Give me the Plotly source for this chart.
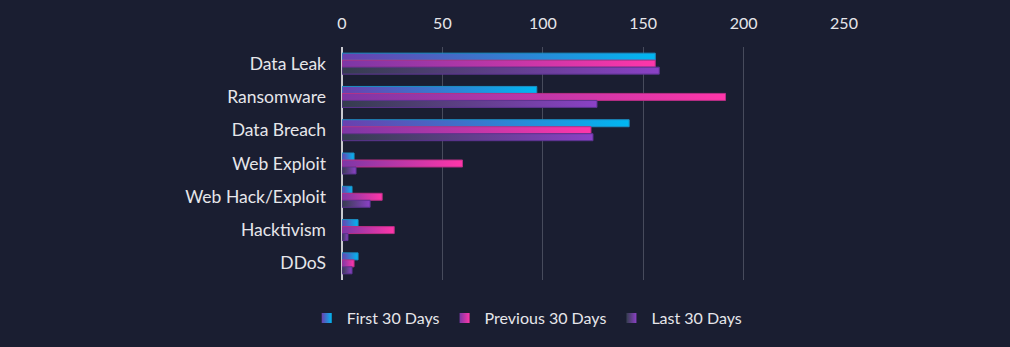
import plotly.graph_objects as go

# Incident categories and counts per 30-day window
categories = ["Data Leak", "Ransomware", "Data Breach", "Web Exploit",
              "Web Hack/Exploit", "Hacktivism", "DDoS"]
first_30 = [156, 97, 143, 6, 5, 8, 8]
previous_30 = [156, 191, 124, 60, 20, 26, 6]
last_30 = [158, 127, 125, 7, 14, 3, 5]
x_ticks = [0, 50, 100, 150, 200, 250]

series = [
    ("First 30 Days", first_30, "#6b3fae", "#00b7f1", "#1c8fc4"),
    ("Previous 30 Days", previous_30, "#7c37a6", "#ff36a9", "#b82f86"),
    ("Last 30 Days", last_30, "#343d4e", "#8b41c6", "#5c3391"),
]

BG = "#1a1e31"
FONT = "Lato"
TEXT = "#e6e6ea"
bar_h = 0.21           # thickness of one bar in category units
n = len(series)

fig = go.Figure()

for s_idx, (name, values, c0, c1, edge) in enumerate(series):
    offset = (s_idx - (n - 1) / 2) * bar_h
    for c_idx, v in enumerate(values):
        y0 = c_idx + offset - bar_h / 2
        y1 = c_idx + offset + bar_h / 2
        fig.add_trace(go.Scatter(
            x=[0, v, v, 0, 0],
            y=[y0, y0, y1, y1, y0],
            mode="lines",
            fill="toself",
            fillgradient=dict(type="horizontal",
                              colorscale=[[0, c0], [1, c1]]),
            line=dict(color=edge, width=1),
            name=name,
            legendgroup=name,
            showlegend=False,
            hoveron="fills",
            text=f"{categories[c_idx]}<br>{name}: {v}",
            hoverinfo="text",
        ))
    # legend entry for the series
    fig.add_trace(go.Scatter(
        x=[None], y=[None],
        mode="markers",
        marker=dict(symbol="square", size=10, color=c0,
                    gradient=dict(type="horizontal", color=c1)),
        name=name,
        legendgroup=name,
        showlegend=True,
    ))

fig.update_layout(
    width=1010, height=347,
    paper_bgcolor=BG, plot_bgcolor=BG,
    margin=dict(l=342, r=165, t=47, b=67),
    font=dict(family=FONT, color=TEXT, size=17),
    showlegend=True,
    legend=dict(
        orientation="h",
        xref="container", yref="container",
        x=0.522, xanchor="center",
        y=0.083, yanchor="middle",
        font=dict(size=16, color=TEXT),
        bgcolor="rgba(0,0,0,0)",
        itemclick=False,
    ),
    xaxis=dict(
        side="top",
        range=[0, 250.5],
        tickvals=x_ticks,
        ticktext=[str(t) for t in x_ticks],
        showgrid=True, gridcolor="#474b5c", gridwidth=1,
        zeroline=True, zerolinecolor="#c9cad0", zerolinewidth=1.5,
        showline=False, ticks="",
        tickfont=dict(size=16, color=TEXT),
        ticklabelstandoff=14,
        fixedrange=True,
    ),
    yaxis=dict(
        range=[6.5, -0.5],
        tickvals=list(range(len(categories))),
        ticktext=categories,
        showgrid=False, zeroline=False, showline=False, ticks="",
        tickfont=dict(size=17.5, color=TEXT),
        ticklabelstandoff=15,
        fixedrange=True,
    ),
)

fig.write_html("out.html")
